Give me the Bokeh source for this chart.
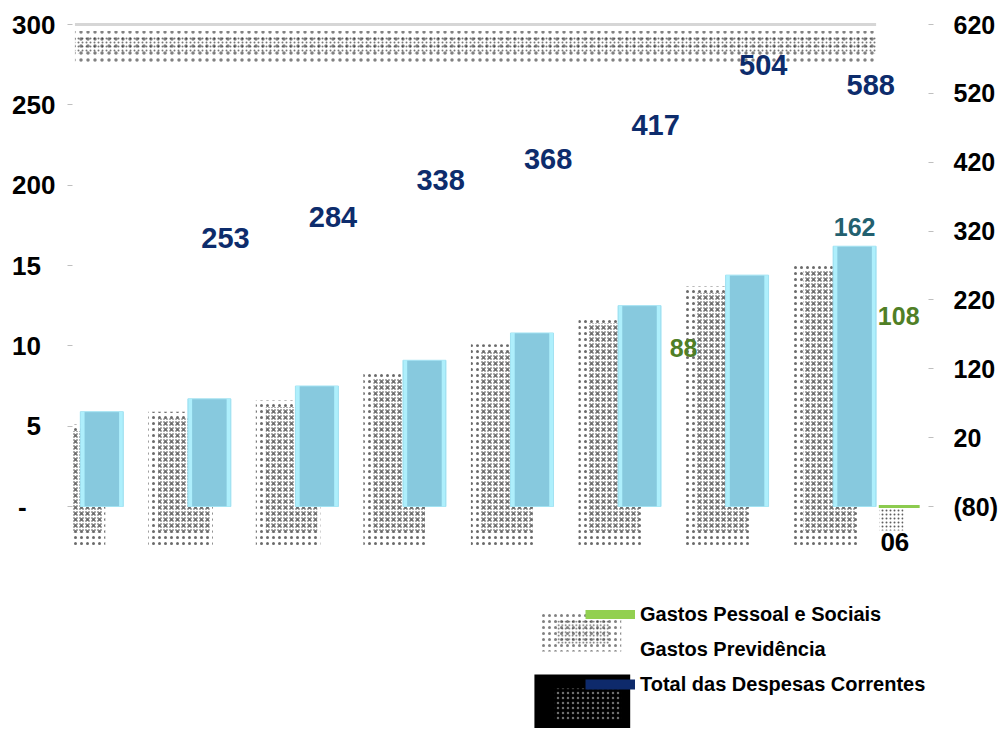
from bokeh.plotting import figure
from bokeh.models import ColumnDataSource, Range1d, LinearAxis, FixedTicker, Legend, LegendItem
from bokeh.transform import dodge
from bokeh.core.properties import value
from bokeh.embed import file_html
from bokeh.resources import INLINE

# ---------------- data ----------------
periods = [1, 2, 3, 4, 5, 6, 7, 8]
bar_values = [59, 67, 75, 91, 108, 125, 144, 162]          # light-blue bars, left axis
previdencia_values = [47, 55, 62, 80, 97, 114, 133, 147]   # stippled series, left axis
bar_label_periods = [8]
bar_label_values = [162]
pessoal_periods = [6, 8]
pessoal_values = [88, 108]
pessoal_base_periods = [8]
total_periods = [2, 3, 4, 5, 6, 7, 8]
total_values = [253, 284, 338, 368, 417, 504, 588]         # right axis
left_ticks = [0, 50, 100, 150, 200, 250, 300]
left_tick_labels = ["-", "5", "10", "15", "200", "250", "300"]
right_ticks = [-80, 20, 120, 220, 320, 420, 520, 620]
right_tick_labels = ["(80)", "20", "120", "220", "320", "420", "520", "620"]
series_names = ["Gastos Pessoal e Sociais", "Gastos Previdência", "Total das Despesas Correntes"]
clipped_label_text = "06"

# ---------------- layout ----------------
W, H = 1000, 728
BORDER_L, BORDER_R = 72, 70
FRAME_W = W - BORDER_L - BORDER_R
PX_TOP, PX_ZERO = 24, 506        # px of top tick and of the base line
PX_FIRST, STEP = 29.4, 107.79    # first bar centre from frame left, px per period

left_scale = (PX_ZERO - PX_TOP) / (left_ticks[-1] - left_ticks[0])
right_scale = (PX_ZERO - PX_TOP) / (right_ticks[-1] - right_ticks[0])
y_lo = left_ticks[0] - (H - PX_ZERO) / left_scale
y_hi = left_ticks[-1] + PX_TOP / left_scale
r_lo = right_ticks[0] - (H - PX_ZERO) / right_scale
r_hi = right_ticks[-1] + PX_TOP / right_scale
x_lo = periods[0] - PX_FIRST / STEP
x_hi = x_lo + FRAME_W / STEP


def dx(px):
    """pixel column -> data x (for decorative legend shapes only)"""
    return x_lo + (px - BORDER_L) / STEP


def dy(py):
    """pixel row -> data y on the left axis (for decorative legend shapes only)"""
    return y_hi - py / left_scale


FONT = value("Liberation Sans")
NAVY = "#0D2C6C"
TEAL = "#23606F"
GREEN_TXT = "#507F26"
GREEN = "#92D050"
BLUE = "#87C9DE"
BLUE_HI = "#AEEFFC"
DOTS = "#1A1A1A"

p = figure(width=W, height=H, x_range=Range1d(x_lo, x_hi), y_range=Range1d(y_lo, y_hi),
           output_backend="svg", toolbar_location=None, x_axis_location=None,
           min_border_left=BORDER_L, min_border_right=BORDER_R,
           min_border_top=0, min_border_bottom=0,
           outline_line_color=None, background_fill_color="white", border_fill_color="white")
p.grid.visible = False

# left axis (labels partly hidden in the picture: keep their original width)
pad = "\u2007"
left_over = {}
for t, lab in zip(left_ticks, left_tick_labels):
    if lab == "-":
        left_over[t] = lab + pad * 2
    elif len(lab) < 3:
        left_over[t] = lab + pad
    else:
        left_over[t] = lab
ax_l = p.yaxis[0]
ax_l.ticker = FixedTicker(ticks=left_ticks)
ax_l.major_label_overrides = left_over
ax_l.axis_line_color = None
ax_l.major_tick_line_color = "#BFBFBF"
ax_l.major_tick_out = 5
ax_l.major_tick_in = 0
ax_l.minor_tick_line_color = None
ax_l.major_label_standoff = 12
ax_l.major_label_text_font = "Liberation Sans"
ax_l.major_label_text_font_style = "bold"
ax_l.major_label_text_font_size = "26px"
ax_l.major_label_text_color = "black"

# right axis
p.extra_y_ranges = {"right": Range1d(r_lo, r_hi)}
ax_r = LinearAxis(y_range_name="right", ticker=FixedTicker(ticks=right_ticks),
                  major_label_overrides=dict(zip(right_ticks, right_tick_labels)),
                  axis_line_color=None, major_tick_line_color="#BFBFBF",
                  major_tick_out=5, major_tick_in=0, minor_tick_line_color=None,
                  major_label_standoff=20, major_label_text_font="Liberation Sans",
                  major_label_text_font_style="bold", major_label_text_font_size="25px",
                  major_label_text_color="black")
p.add_layout(ax_r, "right")

# top grey line and its stippled band
band_x0 = periods[0] - 0.25
band_x1 = periods[-1] + 0.2
top_v = left_ticks[-1]
p.quad(left=band_x0, right=band_x1, bottom=top_v - 24, top=top_v - 4,
       fill_alpha=0, line_alpha=0, hatch_pattern="dot", hatch_scale=7,
       hatch_color=DOTS, hatch_alpha=0.55)
p.quad(left=band_x0, right=band_x1, bottom=top_v - 18, top=top_v - 7.5,
       fill_alpha=0, line_alpha=0, hatch_pattern="dot", hatch_scale=4,
       hatch_color=DOTS, hatch_alpha=0.6)
p.segment(x0=band_x0, y0=top_v, x1=band_x1, y1=top_v, line_color="#D6D6D6", line_width=3)

src = ColumnDataSource(dict(x=periods, bar=bar_values, prev=previdencia_values,
                            prev_top=[v + 4 for v in previdencia_values]))

# stippled "Gastos Previdência" shapes
p.vbar(x=dodge("x", -0.268), width=0.6, top="prev_top", bottom=-24, source=src,
       fill_alpha=0, line_alpha=0, hatch_pattern="dot", hatch_scale=6,
       hatch_color=DOTS, hatch_alpha=0.65)
p.vbar(x=dodge("x", -0.236), width=0.48, top="prev", bottom=-16, source=src,
       fill_alpha=0, line_alpha=0, hatch_pattern="dot", hatch_scale=3,
       hatch_color=DOTS, hatch_alpha=0.85)

# light-blue bars with bevelled edges
p.vbar(x="x", width=0.4, top="bar", bottom=0, source=src,
       fill_color=BLUE, line_color="#A2E2F2", line_width=1)
p.vbar(x=dodge("x", -0.178), width=0.035, top="bar", bottom=0, source=src,
       fill_color=BLUE_HI, line_alpha=0)
p.vbar(x=dodge("x", 0.178), width=0.035, top="bar", bottom=0, source=src,
       fill_color=BLUE_HI, line_alpha=0)

# bar label
p.text(x=bar_label_periods, y=bar_label_values, text=[str(v) for v in bar_label_values],
       text_align="center", text_baseline="middle", y_offset=-19, text_font=FONT,
       text_font_style="bold", text_font_size="25px", text_color=TEAL)

# Gastos Pessoal e Sociais labels and base strip
pes_src = ColumnDataSource(dict(x=pessoal_periods, y=pessoal_values,
                                t=[str(v) for v in pessoal_values]))
p.text(x=dodge("x", 0.41), y="y", text="t", source=pes_src,
       text_align="center", text_baseline="middle", y_offset=-17, text_font=FONT,
       text_font_style="bold", text_font_size="25px", text_color=GREEN_TXT)
base_src = ColumnDataSource(dict(x=pessoal_base_periods, t=[clipped_label_text]))
p.quad(left=dodge("x", 0.23), right=dodge("x", 0.455), top=0, bottom=-15, source=base_src,
       fill_alpha=0, line_alpha=0, hatch_pattern="dot", hatch_scale=4,
       hatch_color=DOTS, hatch_alpha=0.7)
p.segment(x0=dodge("x", 0.225), x1=dodge("x", 0.605), y0=0, y1=0, source=base_src,
          line_color="#8CCB4F", line_width=3)
p.text(x=dodge("x", 0.24), y=0, text="t", source=base_src, text_align="left",
       text_baseline="middle", y_offset=35, text_font=FONT, text_font_style="bold",
       text_font_size="26px", text_color="black")

# Total das Despesas Correntes labels (right axis)
tmax = max(total_values)
tot_src = ColumnDataSource(dict(x=total_periods, y=total_values,
                                t=[str(v) for v in total_values],
                                off=[38 if v == tmax else -39 for v in total_values]))
p.text(x=dodge("x", 0.15), y="y", text="t", y_offset="off", source=tot_src,
       y_range_name="right", text_align="center", text_baseline="middle",
       text_font=FONT, text_font_style="bold", text_font_size="29px", text_color=NAVY)

# ---------------- legend ----------------
GLYPH_L, GLYPH_W, STANDOFF = 585, 50, 5
ROW_H, ROW_STEP, LEG_BOTTOM = 24, 35, 32
row1_top = H - LEG_BOTTOM - ROW_H - 2 * ROW_STEP
row3_top = H - LEG_BOTTOM - ROW_H

# stippled swatch of the Previdência series
p.quad(left=dx(GLYPH_L - 43), right=dx(GLYPH_L + 37), top=dy(row1_top + 11),
       bottom=dy(row1_top + 49), fill_alpha=0, line_alpha=0, hatch_pattern="dot",
       hatch_scale=6, hatch_color=DOTS, hatch_alpha=0.55)
p.quad(left=dx(GLYPH_L - 28), right=dx(GLYPH_L + 25), top=dy(row1_top + 18),
       bottom=dy(row1_top + 42), fill_alpha=0, line_alpha=0, hatch_pattern="dot",
       hatch_scale=3.5, hatch_color=DOTS, hatch_alpha=0.7)
# dark block behind the last entry
p.quad(left=dx(GLYPH_L - 50), right=dx(GLYPH_L + 46), top=dy(row3_top + 2),
       bottom=y_lo, fill_color="black", line_alpha=0)
p.quad(left=dx(GLYPH_L - 30), right=dx(GLYPH_L + 37), top=dy(row3_top + 16),
       bottom=dy(row3_top + 48), fill_alpha=0, line_alpha=0, hatch_pattern="dot",
       hatch_scale=5, hatch_color="#8A8A8A", hatch_alpha=0.8)

nan = float("nan")
green_proxy = p.line(x=[nan, nan], y=[nan, nan], line_color=GREEN, line_width=9)
prev_proxy = p.vbar(x=[nan], top=[nan], bottom=[nan], width=1, fill_alpha=0, line_alpha=0)
navy_proxy = p.line(x=[nan, nan], y=[nan, nan], line_color="#0E2A6B", line_width=10)

legend = Legend(items=[LegendItem(label=series_names[0], renderers=[green_proxy]),
                       LegendItem(label=series_names[1], renderers=[prev_proxy]),
                       LegendItem(label=series_names[2], renderers=[navy_proxy])],
                location=(GLYPH_L - BORDER_L, LEG_BOTTOM), orientation="vertical",
                padding=0, margin=0, spacing=ROW_STEP - ROW_H, glyph_width=GLYPH_W,
                glyph_height=ROW_H, label_height=ROW_H, label_standoff=STANDOFF,
                label_text_font="Liberation Sans", label_text_font_style="bold",
                label_text_font_size="20px", label_text_color="black",
                background_fill_alpha=0, border_line_alpha=0)
p.add_layout(legend)

open("out.html", "w").write(file_html(p, INLINE))
